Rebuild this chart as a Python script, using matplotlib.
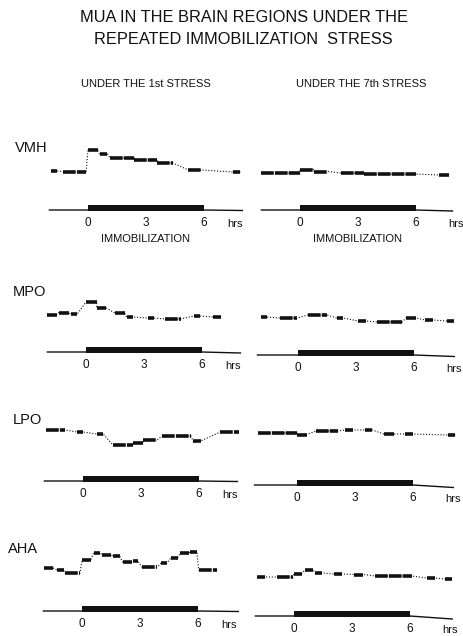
import matplotlib
matplotlib.use("Agg")
import matplotlib.pyplot as plt

plt.rcParams['font.family'] = ['Liberation Sans', 'DejaVu Sans']

# recorded MUA segments: (start hr, end hr, level above time axis)
VMH_1ST = [(-1.9, -1.6, 3.9), (-1.3, -0.1, 3.85), (0.0, 0.5, 6.0), (0.6, 1.0, 5.6),
           (1.15, 2.4, 5.2), (2.4, 3.6, 5.0), (3.6, 4.4, 4.7), (5.2, 5.9, 4.0),
           (7.5, 7.9, 3.8)]
VMH_7TH = [(-2.0, 0.0, 3.7), (0.0, 0.7, 4.05), (0.7, 1.45, 3.85), (2.1, 3.3, 3.7),
           (3.3, 6.0, 3.6), (7.2, 7.7, 3.5)]
MPO_1ST = [(-2.0, -1.5, 3.75), (-1.4, -0.9, 3.95), (-0.8, -0.45, 3.8), (0.0, 0.55, 5.0),
           (0.55, 1.05, 4.4), (1.5, 2.0, 3.9), (2.1, 2.45, 3.5), (3.2, 3.5, 3.4),
           (4.1, 4.9, 3.3), (5.6, 5.9, 3.6), (6.6, 7.0, 3.5)]
MPO_7TH = [(-1.9, -1.6, 3.8), (-0.95, -0.05, 3.7), (0.5, 1.5, 4.0), (2.0, 2.35, 3.7),
           (3.1, 3.5, 3.4), (4.1, 5.4, 3.3), (5.6, 6.1, 3.7), (6.6, 7.0, 3.5),
           (7.7, 8.1, 3.4)]
LPO_1ST = [(-1.9, -0.95, 5.1), (-0.3, 0.0, 4.9), (0.7, 1.05, 4.7), (1.55, 2.6, 3.6),
           (2.6, 3.1, 3.8), (3.1, 3.85, 4.1), (4.1, 5.6, 4.5), (5.7, 6.1, 4.0),
           (7.1, 8.1, 4.9)]
LPO_7TH = [(-2.0, 0.0, 5.2), (0.0, 0.5, 5.05), (1.0, 2.1, 5.4), (2.5, 2.9, 5.5),
           (3.5, 3.9, 5.5), (4.5, 5.0, 5.1), (5.6, 6.0, 5.1), (7.8, 8.2, 5.0)]
AHA_1ST = [(-1.95, -1.5, 4.3), (-1.3, -0.95, 4.1), (-0.9, -0.1, 3.8), (0.0, 0.45, 5.1),
           (0.6, 0.95, 5.8), (1.05, 1.5, 5.6), (1.6, 1.95, 5.5), (2.1, 2.6, 4.9),
           (2.65, 2.9, 5.0), (3.1, 3.9, 4.4), (4.1, 4.4, 4.8), (4.6, 4.95, 5.3),
           (5.1, 5.55, 5.8), (5.6, 5.95, 5.9), (6.05, 7.0, 4.1)]
AHA_7TH = [(-1.9, -1.5, 3.9), (-0.9, -0.05, 3.9), (0.0, 0.4, 4.2), (0.55, 1.0, 4.6),
           (1.1, 1.45, 4.3), (2.05, 2.5, 4.2), (3.1, 3.6, 4.15), (4.2, 6.1, 4.0),
           (6.9, 7.3, 3.8), (7.8, 8.2, 3.7)]

REGIONS = ['VMH', 'MPO', 'LPO', 'AHA']
TRACES = [[VMH_1ST, VMH_7TH], [MPO_1ST, MPO_7TH], [LPO_1ST, LPO_7TH], [AHA_1ST, AHA_7TH]]
TICKS = [0, 3, 6]
STRESS_HRS = (0, 6)

W, H = 463, 636
PXH = 19.3      # pixels per hour
PXU = 10.0      # pixels per level unit
HMIN, HMAX = -2.4, 8.8
YMIN, YMAX = -3.5, 7.0

# layout in pixels: x of hour 0, y of time axis
zero_x = [[88, 300], [86, 298], [83, 297], [82, 294]]
axis_y = [[210, 210], [352, 355], [481, 485], [611, 616]]
line_ext = [[(-2.0, 8.0), (-2.0, 7.9)], [(-2.0, 8.0), (-2.1, 8.1)],
            [(-2.0, 8.0), (-2.2, 8.1)], [(-2.0, 8.1), (-2.0, 8.2)]]
end_drop = [[0.05, 0.1], [0.1, 0.15], [0.05, 0.25], [0.05, 0.3]]
label_y = [148, 292, 420, 549]
label_x = [15, 13, 13, 8]

fig = plt.figure(figsize=(W / 100, H / 100), dpi=100)
ink = '#111111'

fig.text(244 / W, 1 - 17 / H, 'MUA IN THE BRAIN REGIONS UNDER THE', ha='center', va='center',
         fontsize=11.8, color=ink)
fig.text(243 / W, 1 - 40 / H, 'REPEATED IMMOBILIZATION  STRESS', ha='center', va='center',
         fontsize=11.8, color=ink)
fig.text(146 / W, 1 - 84 / H, 'UNDER THE 1st STRESS', ha='center', va='center',
         fontsize=8, color=ink)
fig.text(361 / W, 1 - 84 / H, 'UNDER THE 7th STRESS', ha='center', va='center',
         fontsize=8, color=ink)

for r, name in enumerate(REGIONS):
    fig.text(label_x[r] / W, 1 - label_y[r] / H, name, ha='left', va='center',
             fontsize=10.5, color=ink)
    for c in range(2):
        x0 = zero_x[r][c] + HMIN * PXH
        y0 = axis_y[r][c] + (-YMIN) * PXU
        ax = fig.add_axes([x0 / W, 1 - y0 / H, (HMAX - HMIN) * PXH / W,
                           (YMAX - YMIN) * PXU / H])
        ax.set_xlim(HMIN, HMAX)
        ax.set_ylim(YMIN, YMAX)
        ax.axis('off')

        segs = TRACES[r][c]
        xs, ys = [], []
        for s, e, lv in segs:
            xs += [s, e]
            ys += [lv, lv]
        ax.plot(xs, ys, ls=(0, (1, 1.6)), lw=0.8, color=ink)
        for s, e, lv in segs:
            ax.plot([s, e], [lv, lv], lw=2.6, color=ink, solid_capstyle='butt',
                    ls=(0, (3.5, 0.35)))

        # time axis and immobilization bar
        a, b = line_ext[r][c]
        ax.plot([a, STRESS_HRS[1], b], [0, 0, -end_drop[r][c]], lw=1.0, color=ink)
        ax.fill_between(STRESS_HRS, [-0.05, -0.05], [0.55, 0.55], color=ink, lw=0)
        for t in TICKS:
            ax.text(t, -1.3, str(t), ha='center', va='center', fontsize=8.5, color=ink)
        ax.text(7.6 if c == 0 else 8.1, -1.4, 'hrs', ha='center', va='center',
                fontsize=8, color=ink)
        if r == 0:
            ax.text(3, -2.85, 'IMMOBILIZATION', ha='center', va='center',
                    fontsize=8, color=ink)

fig.savefig('out.png', dpi=100, facecolor='white')
